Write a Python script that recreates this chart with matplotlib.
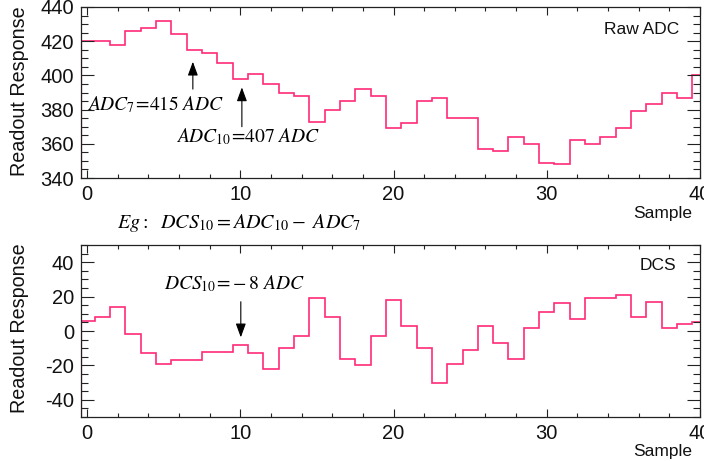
import numpy as np
import matplotlib
matplotlib.use("Agg")
import matplotlib.pyplot as plt
from matplotlib.ticker import MultipleLocator

plt.rcParams['font.family'] = ['Liberation Sans', 'DejaVu Sans']
plt.rcParams['mathtext.fontset'] = 'stix'
plt.rcParams['axes.unicode_minus'] = False

# ---- data (one value per sample) ----
samples = np.arange(0, 41)
raw_adc = [420, 420, 418, 426, 428, 432, 424, 415, 413, 407,
           398, 401, 395, 390, 388, 373, 380, 385, 392, 388,
           369, 372, 385, 387, 375, 375, 357, 356, 364, 360,
           349, 348, 362, 360, 364, 369, 379, 383, 390, 387,
           400]
dcs = [6, 8, 14, -2, -13, -19, -17, -17, -12, -12,
       -8, -13, -22, -10, -3, 19, 8, -16, -20, -3,
       18, 3, -10, -30, -19, -11, 3, -7, -16, 2,
       11, 16, 7, 19, 19, 21, 8, 17, 2, 4,
       5]
x_ticks = [0, 10, 20, 30, 40]
top_yticks = [340, 360, 380, 400, 420, 440]
bot_yticks = [-40, -20, 0, 20, 40]

W, H = 704, 461
fig = plt.figure(figsize=(W / 100, H / 100), dpi=100)

def ax_rect(l, t, r, b):
    return [l / W, 1 - b / H, (r - l) / W, (b - t) / H]

ax1 = fig.add_axes(ax_rect(81, 7, 700, 178))
ax2 = fig.add_axes(ax_rect(81, 245, 700, 417))

line_color = '#ff2a78'
xlim = (-0.4, 40.0)
edges = np.concatenate([samples - 0.5, [samples[-1] + 0.5]])

def style(ax, ylim, yticks, yminor):
    ax.set_xlim(*xlim)
    ax.set_ylim(*ylim)
    ax.set_xticks(x_ticks)
    ax.set_yticks(yticks)
    ax.xaxis.set_minor_locator(MultipleLocator(2))
    ax.yaxis.set_minor_locator(MultipleLocator(yminor))
    ax.tick_params(axis='both', which='both', direction='in',
                   top=True, right=True, colors='#222222', width=0.8,
                   labelsize=14.5, labelcolor='#111111')
    ax.tick_params(axis='x', which='major', length=5.8, pad=5)
    ax.tick_params(axis='x', which='minor', length=3)
    ax.tick_params(axis='y', which='major', length=9.4, pad=5)
    ax.tick_params(axis='y', which='minor', length=5)
    for s in ax.spines.values():
        s.set_color('#222222')
        s.set_linewidth(0.9)

# top panel
ax1.stairs(raw_adc, edges, color=line_color, lw=1.2)
style(ax1, (340, 440), top_yticks, 5)
ax1.vlines(xlim[0] + 0.03, 340, raw_adc[0], color=line_color, lw=1.6)

# bottom panel
ax2.stairs(dcs, edges, color=line_color, lw=1.2)
style(ax2, (-50, 50), bot_yticks, 5)
ax2.vlines(xlim[0] + 0.03, -50, dcs[0], color=line_color, lw=1.6)

# panel labels
ax1.text(0.966, 0.87, 'Raw ADC', transform=ax1.transAxes, ha='right',
         va='center', fontsize=12.5, color='#111111')
ax2.text(0.961, 0.878, 'DCS', transform=ax2.transAxes, ha='right',
         va='center', fontsize=12.5, color='#111111')

# axis titles
for yc in [(7 + 175) / 2, (245 + 412) / 2]:
    fig.text(20 / W, 1 - yc / H, 'Readout Response', rotation=90,
             ha='center', va='center', fontsize=14.2, color='#111111')
for yc in [213, 451]:
    fig.text(692 / W, 1 - yc / H, 'Sample', ha='right', va='center',
             fontsize=12.5, color='#111111')

# annotations
arrow = dict(arrowstyle='-|>,head_length=0.6,head_width=0.22',
             color='black', lw=0.8, mutation_scale=14, shrinkA=0, shrinkB=0)
ax1.text(4.45, 383, r'$ADC_{7}\!=\!415\ ADC$', ha='center', va='center',
         fontsize=14)
ax1.annotate('', xy=(6.9, 408), xytext=(6.9, 392), arrowprops=arrow)
ax1.text(10.5, 364, r'$ADC_{10}\!=\!407\ ADC$', ha='center', va='center',
         fontsize=14)
ax1.annotate('', xy=(10.1, 393), xytext=(10.1, 370), arrowprops=arrow)

ax2.text(9.6, 27.8, r'$DCS_{10}\!=\!-8\ ADC$', ha='center', va='center',
         fontsize=14)
ax2.annotate('', xy=(10.03, -3.7), xytext=(10.03, 17), arrowprops=arrow)

fig.text(117 / W, 1 - 223 / H,
         r'$Eg:\ \ DCS_{10}=ADC_{10}-\ ADC_{7}$',
         ha='left', va='center', fontsize=14.5)

fig.savefig('out.png', dpi=100)
